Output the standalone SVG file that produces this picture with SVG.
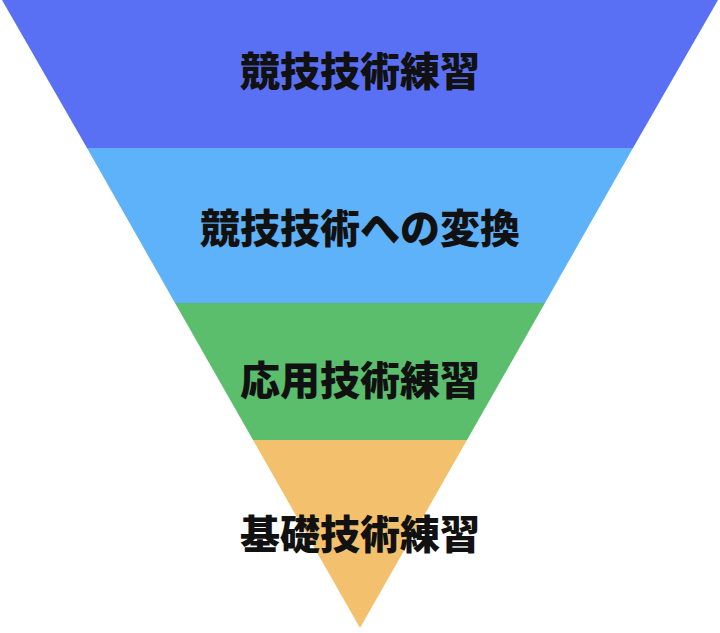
<svg xmlns="http://www.w3.org/2000/svg" width="720" height="633" viewBox="0 0 720 633">
<style>
.t{font-family:"Noto Sans CJK JP","Noto Sans CJK SC",sans-serif;font-weight:900;font-size:40px;fill:#111;text-anchor:middle}
</style>
<rect width="720" height="633" fill="#fff"/>
<g id="n1"><polygon points="2,0 718,0 633,148 87,148" fill="#5970F5"/><text class="t" x="360" y="86">競技技術練習</text></g>
<g id="n2"><polygon points="87,148 633,148 545,303 175,303" fill="#5EB2F9"/><text class="t" x="360" y="243">競技技術への変換</text></g>
<g id="n3"><polygon points="175,303 545,303 467,440 253,440" fill="#5BBE6D"/><text class="t" x="360" y="395">応用技術練習</text></g>
<g id="n4"><polygon points="253,440 467,440 360,628" fill="#F3C06D"/><text class="t" x="360" y="549">基礎技術練習</text></g>
<g id="connectors"/>
</svg>
